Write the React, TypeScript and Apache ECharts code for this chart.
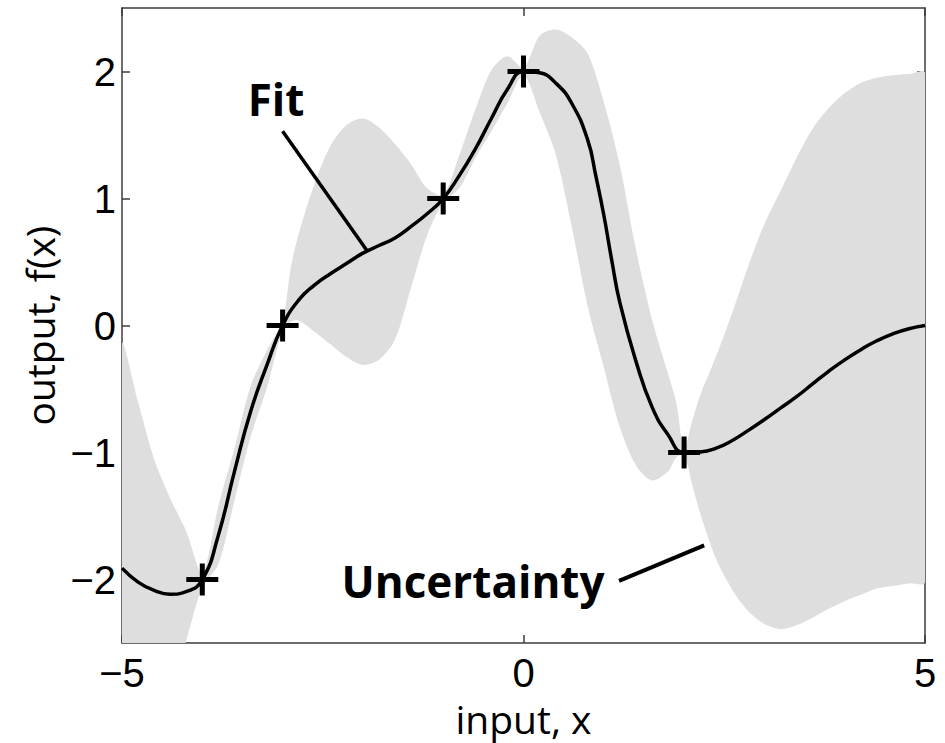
import React, { useEffect, useRef } from "react";
import * as echarts from "echarts";

// Uncertainty band (upper / lower edge) sampled along x
const bandX = [
  -5.0, -4.8, -4.6, -4.4, -4.2, -4.0, -3.8, -3.6, -3.4, -3.2, -3.0, -2.9, -2.8, -2.6, -2.4, -2.2, -2.0,
  -1.8, -1.6, -1.4, -1.2, -1.0, -0.8, -0.6, -0.4, -0.2, 0.0, 0.2, 0.4, 0.6, 0.8, 1.0, 1.2, 1.4, 1.6,
  1.8, 1.9, 2.0, 2.1, 2.2, 2.4, 2.6, 2.8, 3.0, 3.2, 3.4, 3.6, 3.8, 4.0, 4.2, 4.4, 4.6, 4.8, 5.0,
];
const bandUpper = [
  -0.15, -0.6, -1.05, -1.36, -1.62, -1.95, -1.42, -0.97, -0.48, -0.2, 0.04, 0.45, 0.72, 1.12, 1.42, 1.58, 1.63,
  1.56, 1.43, 1.27, 1.08, 1.03, 1.34, 1.7, 2.01, 2.12, 2.03, 2.28, 2.33, 2.27, 2.14, 1.76, 1.26, 0.6, 0.05,
  -0.38, -0.6, -0.97, -0.75, -0.55, -0.24, 0.1, 0.47, 0.8, 1.06, 1.32, 1.55, 1.71, 1.83, 1.91, 1.95, 1.97, 1.98, 1.99,
];
const bandLower = [
  -3.7, -3.45, -3.15, -2.88, -2.48, -2.06, -1.88, -1.38, -0.88, -0.5, -0.04, 0.03, 0.04, -0.05, -0.15, -0.25, -0.31,
  -0.27, -0.11, 0.3, 0.71, 0.97, 1.08, 1.32, 1.53, 1.75, 1.97, 1.68, 1.35, 0.78, 0.15, -0.33, -0.8, -1.1, -1.22,
  -1.15, -1.04, -1.02, -1.25, -1.48, -1.84, -2.08, -2.25, -2.35, -2.39, -2.36, -2.3, -2.23, -2.17, -2.12, -2.07, -2.05, -2.03, -2.02,
];

// Fitted mean curve
const fitX = [
  -5.0, -4.8, -4.6, -4.4, -4.2, -4.0, -3.8, -3.6, -3.4, -3.2, -3.0, -2.8, -2.6, -2.4, -2.2, -2.0, -1.8,
  -1.6, -1.4, -1.2, -1.0, -0.8, -0.6, -0.4, -0.2, 0.0, 0.2, 0.4, 0.6, 0.8, 0.9, 1.0, 1.1, 1.2, 1.4, 1.6, 1.8, 2.0,
  2.2, 2.4, 2.6, 2.8, 3.0, 3.2, 3.4, 3.6, 3.8, 4.0, 4.2, 4.4, 4.6, 4.8, 5.0,
];
const fitY = [
  -1.91, -2.02, -2.085, -2.115, -2.095, -2.0, -1.65, -1.15, -0.68, -0.32, 0.0, 0.2, 0.32, 0.41, 0.49, 0.57, 0.63,
  0.69, 0.78, 0.88, 1.0, 1.18, 1.39, 1.63, 1.86, 2.0, 1.99, 1.91, 1.75, 1.46, 1.18, 0.87, 0.51, 0.18, -0.28, -0.64, -0.86, -1.0,
  -0.995, -0.965, -0.905, -0.825, -0.74, -0.65, -0.56, -0.46, -0.36, -0.27, -0.19, -0.12, -0.065, -0.025, 0.0,
];

// Observed samples
const obsX = [-4, -3, -1, 0, 2];
const obsY = [-2, 0, 1, 2, -1];

// Axis ticks
const xTicks = [-5, 0, 5];
const yTicks = [-2, -1, 0, 1, 2];

// Annotation leader lines (data coordinates)
const fitPointer = [
  [-3.0, 1.53],
  [-1.95, 0.59],
];
const uncertaintyPointer = [
  [1.19, -2.01],
  [2.25, -1.73],
];

const fmt = (v: number) => (v < 0 ? "\u2212" + Math.abs(v) : String(v));

const FRAME = "#3c3c3c";
const PLUS = "path://M0,13.5H32V18.5H0Z M13.5,0H18.5V32H13.5Z";

export default function App() {
  const ref = useRef<HTMLDivElement>(null);

  useEffect(() => {
    if (!ref.current) return;
    const chart = echarts.init(ref.current, null, { renderer: "svg" });

    const axisLine = { show: true, onZero: false, lineStyle: { color: FRAME, width: 1.5 } };
    const tick = (values: number[]) => ({
      show: true,
      inside: true,
      length: 8,
      customValues: values,
      lineStyle: { color: FRAME, width: 1.5 },
    });
    const label = (values: number[]) => ({
      customValues: values,
      formatter: fmt,
      fontFamily: "Liberation Sans",
      fontSize: 40,
      lineHeight: 38,
      color: "#000",
    });
    const titleStyle = { fontFamily: "Open Sans", fontSize: 39, lineHeight: 40, color: "#000" };

    // Closed outline of the band: upper edge left-to-right, lower edge back
    const renderBand = (params: any, api: any) => {
      const pts: number[][] = [];
      for (let i = 0; i < bandX.length; i++) pts.push(api.coord([bandX[i], bandUpper[i]]));
      for (let i = bandX.length - 1; i >= 0; i--) pts.push(api.coord([bandX[i], bandLower[i]]));
      const cs = params.coordSys;
      return {
        type: "polygon",
        shape: { points: pts, smooth: 0.3 },
        style: { fill: "#dedede" },
        clipPath: { type: "rect", shape: { x: cs.x, y: cs.y, width: cs.width, height: cs.height } },
      };
    };

    chart.setOption({
      animation: false,
      backgroundColor: "#fff",
      grid: { left: 122, right: 20, top: 8, bottom: 96 },
      xAxis: [
        {
          type: "value",
          min: -5,
          max: 5,
          position: "bottom",
          axisLine,
          axisTick: tick(xTicks),
          axisLabel: { ...label(xTicks), margin: 11 },
          splitLine: { show: false },
          name: "input, x",
          nameLocation: "middle",
          nameGap: 51,
          nameTextStyle: titleStyle,
        },
        {
          type: "value",
          min: -5,
          max: 5,
          position: "top",
          axisLine,
          axisTick: tick(xTicks),
          axisLabel: { show: false },
          splitLine: { show: false },
        },
      ],
      yAxis: [
        {
          type: "value",
          min: -2.5,
          max: 2.5,
          position: "left",
          axisLine,
          axisTick: tick(yTicks),
          axisLabel: { ...label(yTicks), margin: 6 },
          splitLine: { show: false },
          name: "output, f(x)",
          nameLocation: "middle",
          nameGap: 62,
          nameTextStyle: titleStyle,
        },
        {
          type: "value",
          min: -2.5,
          max: 2.5,
          position: "right",
          axisLine,
          axisTick: tick(yTicks),
          axisLabel: { show: false },
          splitLine: { show: false },
        },
      ],
      graphic: [
        {
          type: "text",
          x: 276,
          y: 99,
          style: {
            text: "Fit",
            fontFamily: "Open Sans",
            fontWeight: "bold",
            fontSize: 44,
            fill: "#000",
            textAlign: "center",
            textVerticalAlign: "middle",
          },
          z: 100,
        },
        {
          type: "text",
          x: 473,
          y: 581,
          style: {
            text: "Uncertainty",
            fontFamily: "Open Sans",
            fontWeight: "bold",
            fontSize: 44,
            fill: "#000",
            textAlign: "center",
            textVerticalAlign: "middle",
          },
          z: 100,
        },
      ],
      series: [
        {
          name: "band",
          type: "custom",
          coordinateSystem: "cartesian2d",
          data: [[0, 0]],
          renderItem: renderBand,
          silent: true,
          z: 1,
        },
        {
          name: "fit",
          type: "line",
          data: fitX.map((x, i) => [x, fitY[i]]),
          symbol: "none",
          smooth: true,
          lineStyle: { color: "#000", width: 3.5 },
          silent: true,
          z: 3,
        },
        {
          name: "observations",
          type: "scatter",
          data: obsX.map((x, i) => [x, obsY[i]]),
          symbol: PLUS,
          symbolSize: 32,
          itemStyle: { color: "#000", opacity: 1 },
          silent: true,
          z: 4,
        },
        {
          name: "fit-pointer",
          type: "line",
          data: fitPointer,
          symbol: "none",
          lineStyle: { color: "#000", width: 3.5 },
          silent: true,
          z: 5,
        },
        {
          name: "uncertainty-pointer",
          type: "line",
          data: uncertaintyPointer,
          symbol: "none",
          lineStyle: { color: "#000", width: 4 },
          silent: true,
          z: 5,
        },
      ],
    });

    return () => chart.dispose();
  }, []);

  return (
    <div
      ref={ref}
      style={{ position: "fixed", left: 0, top: 0, width: 945, height: 743, background: "#fff" }}
    />
  );
}
